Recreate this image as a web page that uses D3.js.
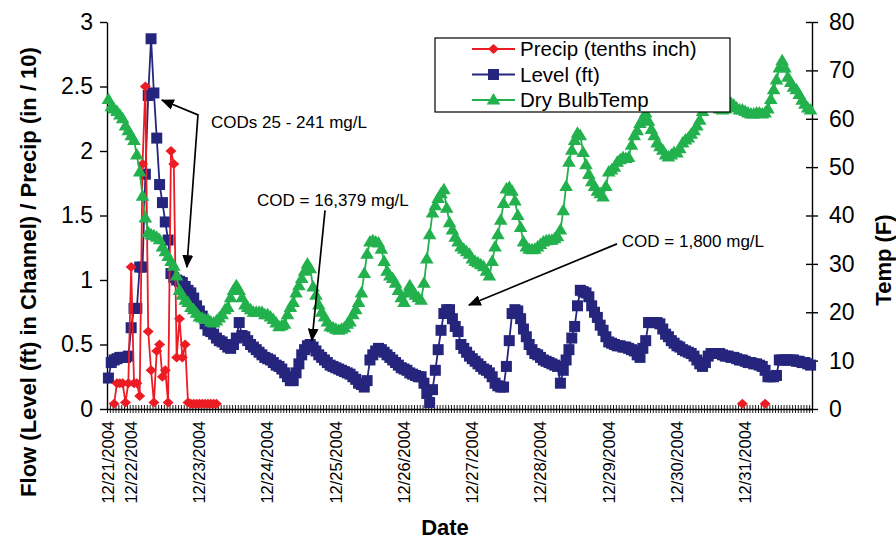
<!DOCTYPE html>
<html lang="en">
<head>
<meta charset="UTF-8">
<title>Channel level, precipitation and temperature</title>
<script src="https://d3js.org/d3.v7.min.js"></script>
<style>
  body { margin: 0; background: #fff; }
  svg { display: block; font-family: "Liberation Sans", Arial, sans-serif; }
  .axis text { font-family: "Liberation Sans", Arial, sans-serif; fill: #000; }
  .axis line, .axis path { stroke: #000; }
</style>
</head>
<body>
<svg id="chart" width="896" height="541"></svg>
<script>
// hourly readings, the first one is 12/21/2004 at 16:00
const firstHour = 16;
const dayLabels = ["12/21/2004", "12/22/2004", "12/23/2004", "12/24/2004", "12/25/2004", "12/26/2004",
  "12/27/2004", "12/28/2004", "12/29/2004", "12/30/2004", "12/31/2004"];

// Level (ft), one value per hour
const level = [
  0.24, 0.36, 0.38, 0.39, 0.40, 0.40, 0.40, 0.41, 0.63, 0.78,
  0.78, 1.1, 1.1, 1.82, 2.43, 2.87, 2.45, 2.1, 1.74, 1.6,
  1.45, 1.31, 1.05, 1.02, 1.0, 0.99, 0.98, 0.95, 0.92, 0.9,
  0.86, 0.8, 0.76, 0.72, 0.66, 0.61, 0.6, 0.58, 0.55, 0.53,
  0.52, 0.5, 0.48, 0.47, 0.5, 0.55, 0.67, 0.57, 0.56, 0.53,
  0.5, 0.48, 0.46, 0.44, 0.42, 0.4, 0.39, 0.38, 0.36, 0.34,
  0.33, 0.31, 0.28, 0.25, 0.22, 0.22, 0.28, 0.35, 0.42, 0.46,
  0.49, 0.5, 0.48, 0.45, 0.42, 0.4, 0.38, 0.36, 0.34, 0.33,
  0.32, 0.31, 0.3, 0.29, 0.28, 0.27, 0.25, 0.23, 0.2, 0.19,
  0.17, 0.22, 0.38, 0.42, 0.45, 0.47, 0.46, 0.44, 0.42, 0.4,
  0.38, 0.36, 0.34, 0.32, 0.31, 0.3, 0.28, 0.27, 0.26, 0.25,
  0.25, 0.2, 0.12, 0.05, 0.15, 0.3, 0.46, 0.61, 0.74, 0.77,
  0.77, 0.7, 0.64, 0.6, 0.5, 0.47, 0.44, 0.41, 0.39, 0.37,
  0.35, 0.33, 0.31, 0.3, 0.28, 0.25, 0.2, 0.18, 0.17, 0.17,
  0.33, 0.53, 0.74, 0.77, 0.76, 0.7, 0.62, 0.56, 0.5, 0.46,
  0.43, 0.42, 0.4, 0.38, 0.37, 0.36, 0.35, 0.34, 0.33, 0.2,
  0.3, 0.38, 0.46, 0.55, 0.64, 0.8, 0.92, 0.91, 0.9, 0.87,
  0.8, 0.75, 0.71, 0.65, 0.61, 0.56, 0.52, 0.51, 0.5, 0.49,
  0.49, 0.48, 0.48, 0.47, 0.46, 0.45, 0.42, 0.4, 0.47, 0.53,
  0.67, 0.67, 0.67, 0.67, 0.66, 0.62, 0.58, 0.56, 0.53, 0.51,
  0.49, 0.48, 0.46, 0.45, 0.44, 0.43, 0.41, 0.38, 0.35, 0.33,
  0.36, 0.41, 0.43, 0.43, 0.43, 0.43, 0.42, 0.41, 0.41, 0.4,
  0.4, 0.39, 0.38, 0.38, 0.37, 0.36, 0.36, 0.35, 0.35, 0.34,
  0.33, 0.3, 0.25, 0.25, 0.25, 0.26, 0.38, 0.38, 0.38, 0.38,
  0.38, 0.38, 0.37, 0.37, 0.36, 0.36, 0.35, 0.34
];

// Dry bulb temperature (F), one value per hour
const temp = [
  64, 62.5, 62, 61.5, 60.8, 60, 58.5, 57.5, 56.5, 55.5,
  52.5, 49, 44, 39.5, 36.5, 36, 35.8, 35.5, 35, 33.5,
  32.5, 31.5, 30.5, 29.5, 27.5, 24.5, 23.5, 22.5, 22, 21,
  20.5, 19.8, 19, 18.8, 18.5, 18.5, 18, 17.8, 18.2, 18.8,
  19.5, 20.5, 21, 23, 24.5, 25.5, 24.5, 23, 21.5, 21,
  20.5, 20, 20, 20, 20, 19.5, 19.5, 19, 18.5, 17.8,
  17, 17.2, 17.5, 19.5, 21, 22, 24, 25.5, 27, 28.5,
  30, 29, 25.2, 23.5, 21.5, 20, 19, 18, 17, 16.8,
  16.5, 16.3, 16.5, 16.8, 17.5, 18, 19.5, 20.5, 22, 24,
  28, 32, 34.5, 34.8, 34.5, 34.3, 33, 30.5, 28.5, 27.5,
  27, 26, 24.5, 23, 22, 24, 25.5, 24.5, 23.5, 23,
  22.5, 26, 31, 36, 40.5, 42, 43.5, 44.5, 45.3, 41.5,
  38.5, 37, 35.5, 34.5, 33.5, 33, 32.5, 32, 31, 30.5,
  30.2, 29.8, 29.4, 28.5, 27.5, 30.5, 33.5, 36, 39, 42.5,
  45.5, 45.8, 45, 43, 40, 37.5, 34.5, 33.5, 33, 32.9,
  33, 33.5, 34, 34.5, 34.8, 34.9, 34.9, 35.2, 35.6, 37,
  41, 46, 51, 53.5, 55.5, 57, 56.5, 53, 50.5, 48.5,
  47, 46, 45, 44.5, 43.8, 46, 49, 49.4, 50, 51,
  51.5, 52, 51.8, 52, 54.5, 56.5, 57.5, 59, 60, 61.2,
  59.5, 57.8, 56.5, 55, 54.2, 53.5, 52.5, 52.1, 52.5, 53,
  52.9, 53.8, 55, 55.6, 56, 56.8, 57.5, 58.5, 59.7, 61.5,
  63, 63.5, 63, 62.5, 62.5, 62, 61.8, 62, 62.5, 63.2,
  62.8, 62.2, 61.8, 61.8, 61.5, 61.2, 61, 61, 61.2, 61.2,
  61, 61.2, 62, 64, 66, 68, 70.5, 72, 70.5, 68.6,
  67.5, 66.5, 66, 65, 63.8, 63, 62.2, 61.8
];

// Precip (tenths inch): only the hours that have a reading
const precipHours = [2, 3, 4, 5, 6, 7, 8, 9, 10, 11, 12, 13, 14, 15, 16, 17, 18, 19, 20,
  21, 22, 23, 24, 25, 26, 27, 28, 29, 30, 31, 32, 33, 34, 35, 36, 37, 38, 223, 231];
const precipValues = [0.04, 0.2, 0.2, 0.2, 0.05, 0.2, 1.1, 0.2, 0.2, 0.1, 1.9, 2.5, 0.6, 0.3, 0.05, 0.45, 0.5, 0.25, 0.3,
  0.05, 2.0, 1.9, 0.4, 0.7, 0.4, 0.5, 0.05, 0.04, 0.04, 0.04, 0.04, 0.04, 0.04, 0.04, 0.04, 0.04, 0.04, 0.04, 0.04];

const leftTicks = [0, 0.5, 1, 1.5, 2, 2.5, 3];
const rightTicks = [0, 10, 20, 30, 40, 50, 60, 70, 80];
const seriesNames = ["Precip (tenths inch)", "Level (ft)", "Dry BulbTemp"];

// notes: position along the hour axis, value on the left axis
const notes = [
  { text: "CODs 25 - 241 mg/L", at: [36.6, 2.18],
    arrow: [[19.3, 2.395], [32.0, 2.28], [28.1, 1.10]], both: true },
  { text: "COD = 16,379 mg/L", at: [52.8, 1.57],
    arrow: [[76.7, 1.54], [72.1, 0.53]], both: false },
  { text: "COD = 1,800 mg/L", at: [181.1, 1.256],
    arrow: [[179.4, 1.28], [127.3, 0.806]], both: false }
];

const colors = { precip: "#ec1c24", level: "#25257d", temp: "#22b14c" };

const svg = d3.select("#chart");
const plot = { left: 107, right: 812, top: 22, bottom: 409 };
const n = level.length;

const xBand = d3.scaleBand().domain(d3.range(n)).range([plot.left, plot.right]);
const xPos = d3.scaleLinear().domain([0, n]).range([plot.left, plot.right]);
const yLeft = d3.scaleLinear().domain([0, 3]).range([plot.bottom, plot.top]);
const yRight = d3.scaleLinear().domain([0, 80]).range([plot.bottom, plot.top]);
const cx = i => xBand(i) + xBand.bandwidth() / 2;

// precip as a full hourly series with gaps
const precip = new Array(n).fill(null);
precipHours.forEach((h, k) => { precip[h] = precipValues[k]; });

// x axis: a tick between every hour
const gx = svg.append("g").attr("class", "axis")
  .attr("transform", `translate(0,${plot.bottom})`)
  .call(d3.axisBottom(xPos).tickValues(d3.range(n + 1)).tickFormat("").tickSize(4).tickSizeOuter(0));
gx.selectAll(".tick line").attr("y1", -4).attr("y2", 4).attr("stroke-width", 0.9);
gx.select(".domain").attr("stroke-width", 1.4);

// date labels at first reading and each midnight
const labelIdx = d3.range(n).filter(i => i === 0 || (firstHour + i) % 24 === 0);
const gxl = svg.append("g").attr("class", "axis")
  .attr("transform", `translate(0,${plot.bottom})`)
  .call(d3.axisBottom(xBand).tickValues(labelIdx).tickFormat((d, k) => dayLabels[k]).tickSize(0));
gxl.select(".domain").remove();
gxl.selectAll("text")
  .attr("transform", "rotate(-90)")
  .attr("text-anchor", "end")
  .attr("x", -12).attr("y", 0).attr("dy", "0.35em")
  .style("font-size", "16.5px");

// left axis
const gl = svg.append("g").attr("class", "axis")
  .attr("transform", `translate(${plot.left},0)`)
  .call(d3.axisLeft(yLeft).tickValues(leftTicks).tickFormat(d => String(d))
    .tickSizeInner(7).tickSizeOuter(0).tickPadding(7));
gl.selectAll("text").style("font-size", "23px");
gl.selectAll("line, path").attr("stroke-width", 1.4);

// right axis
const gr = svg.append("g").attr("class", "axis")
  .attr("transform", `translate(${plot.right},0)`)
  .call(d3.axisRight(yRight).tickValues(rightTicks).tickSizeInner(6).tickSizeOuter(0).tickPadding(11));
gr.selectAll(".tick line").attr("x1", -6);
gr.selectAll("text").style("font-size", "23px");
gr.selectAll("line, path").attr("stroke-width", 1.4);

// axis titles
svg.append("text")
  .attr("transform", "translate(28,272) rotate(-90)")
  .attr("text-anchor", "middle").attr("dy", "0.35em")
  .style("font-size", "22px").style("font-weight", "bold")
  .text("Flow (Level (ft) in Channel) / Precip (in / 10)");
svg.append("text")
  .attr("transform", "translate(883,260) rotate(-90)")
  .attr("text-anchor", "middle").attr("dy", "0.35em")
  .style("font-size", "22px").style("font-weight", "bold")
  .text("Temp (F)");
svg.append("text")
  .attr("x", 445).attr("y", 535)
  .attr("text-anchor", "middle")
  .style("font-size", "22px").style("font-weight", "bold")
  .text("Date");

// marker shapes
const squarePath = d3.symbol().type(d3.symbolSquare).size(121)();
const trianglePath = "M0,-7L6.8,4.5L-6.8,4.5Z";
const diamondPath = "M0,-5L5.5,0L0,5L-5.5,0Z";

function drawSeries(values, yScale, color, shape) {
  const g = svg.append("g");
  const line = d3.line()
    .defined(d => d != null)
    .x((d, i) => cx(i))
    .y(d => yScale(d));
  g.append("path")
    .datum(values)
    .attr("fill", "none")
    .attr("stroke", color)
    .attr("stroke-width", 1.8)
    .attr("d", line);
  g.selectAll("path.mark")
    .data(values.map((v, i) => ({ v, i })).filter(d => d.v != null))
    .join("path")
    .attr("class", "mark")
    .attr("d", shape)
    .attr("fill", color)
    .attr("transform", d => `translate(${cx(d.i)},${yScale(d.v)})`);
}

drawSeries(level, yLeft, colors.level, squarePath);
drawSeries(precip, yLeft, colors.precip, diamondPath);
drawSeries(temp, yRight, colors.temp, trianglePath);

// legend
const legend = svg.append("g").attr("transform", "translate(435,38)");
legend.append("rect")
  .attr("width", 295).attr("height", 74)
  .attr("fill", "#fff").attr("stroke", "#000").attr("stroke-width", 1.2);
const legendKeys = [
  { color: colors.precip, shape: diamondPath },
  { color: colors.level, shape: squarePath },
  { color: colors.temp, shape: trianglePath }
];
seriesNames.forEach((name, k) => {
  const y = 11 + k * 25.5;
  const row = legend.append("g").attr("transform", `translate(0,${y})`);
  row.append("line").attr("x1", 37).attr("x2", 80)
    .attr("stroke", legendKeys[k].color).attr("stroke-width", 1.8);
  row.append("path").attr("d", legendKeys[k].shape)
    .attr("fill", legendKeys[k].color).attr("transform", "translate(58.5,0)");
  row.append("text").attr("x", 85).attr("dy", "0.35em")
    .style("font-size", "20.5px").text(name);
});

// notes with arrows
const defs = svg.append("defs");
defs.append("marker")
  .attr("id", "arrow")
  .attr("viewBox", "0 0 12 10")
  .attr("refX", 11).attr("refY", 5)
  .attr("markerWidth", 13).attr("markerHeight", 11)
  .attr("markerUnits", "userSpaceOnUse")
  .attr("orient", "auto-start-reverse")
  .append("path").attr("d", "M0,0L12,5L0,10Z").attr("fill", "#000");

const noteLine = d3.line().x(d => xPos(d[0])).y(d => yLeft(d[1]));
notes.forEach(note => {
  svg.append("path")
    .attr("d", noteLine(note.arrow))
    .attr("fill", "none").attr("stroke", "#000").attr("stroke-width", 1.7)
    .attr("marker-end", "url(#arrow)")
    .attr("marker-start", note.both ? "url(#arrow)" : null);
  svg.append("text")
    .attr("x", xPos(note.at[0])).attr("y", yLeft(note.at[1]))
    .style("font-size", "17px")
    .text(note.text);
});
</script>
</body>
</html>
